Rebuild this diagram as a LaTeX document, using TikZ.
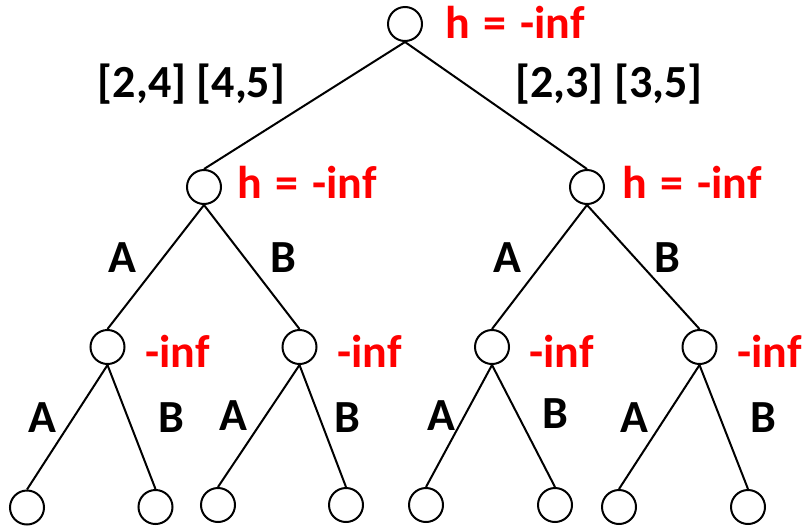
\documentclass[tikz,border=0pt]{standalone}
\usepackage{fontspec}
\setmainfont{Carlito}
\newcommand{\hinf}{h\hspace{3.5pt} = \hspace{3.5pt}-inf}
\begin{document}
\begin{tikzpicture}[x=1pt,y=-1pt,
  st/.style={circle,draw=black,line width=2pt,minimum size=34pt,inner sep=0pt},
  edge/.style={line width=2pt},
  hlabel/.style={anchor=base west,inner sep=0pt,text=red,font=\fontsize{46}{46}\selectfont\bfseries},
  elabel/.style={anchor=base,inner sep=0pt,text=black,font=\fontsize{46}{46}\selectfont\bfseries}]
\useasboundingbox (0,0) rectangle (805,528);
% nodes
\node[st] (r) at (405,24) {};
\node[st] (a) at (204,187) {};
\node[st] (b) at (587,187) {};
\node[st] (aa) at (107.5,347) {};
\node[st] (ab) at (299.5,347) {};
\node[st] (ba) at (492,347) {};
\node[st] (bb) at (699.5,347) {};
\node[st] (aaa) at (27,507.5) {};
\node[st] (aab) at (155.5,507) {};
\node[st] (aba) at (218,505) {};
\node[st] (abb) at (346,505) {};
\node[st] (baa) at (426,505) {};
\node[st] (bab) at (555,505) {};
\node[st] (bba) at (619,507) {};
\node[st] (bbb) at (748,507) {};
% edges
\draw[edge] (r.south) -- (a.north);
\draw[edge] (r.south) -- (b.north);
\draw[edge] (a.south) -- (aa.north);
\draw[edge] (a.south) -- (ab.north);
\draw[edge] (b.south) -- (ba.north);
\draw[edge] (b.south) -- (bb.north);
\draw[edge] (aa.south) -- (aaa.north);
\draw[edge] (aa.south) -- (aab.north);
\draw[edge] (ab.south) -- (aba.north);
\draw[edge] (ab.south) -- (abb.north);
\draw[edge] (ba.south) -- (baa.north);
\draw[edge] (ba.south) -- (bab.north);
\draw[edge] (bb.south) -- (bba.north);
\draw[edge] (bb.south) -- (bbb.north);
% value labels
\node[hlabel] (hr) at (445,38) {\hinf};
\node[hlabel] (ha) at (237,198) {\hinf};
\node[hlabel] (hb) at (622,198) {\hinf};
\node[hlabel] (haa) at (145,367) {-inf};
\node[hlabel] (hab) at (337,367) {-inf};
\node[hlabel] (hba) at (529,367) {-inf};
\node[hlabel] (hbb) at (737,367) {-inf};
% edge labels
\node[elabel] (la) at (191.5,97) {[2,4] [4,5]};
\node[elabel] (lb) at (609,97) {[2,3] [3,5]};
\node[elabel] (l1) at (122,272) {A};
\node[elabel] (l2) at (283.5,272) {B};
\node[elabel] (l3) at (507,272) {A};
\node[elabel] (l4) at (667,272) {B};
\node[elabel] (m1) at (42,432) {A};
\node[elabel] (m2) at (171,432) {B};
\node[elabel] (m3) at (233,430) {A};
\node[elabel] (m4) at (347,432) {B};
\node[elabel] (m5) at (441,430) {A};
\node[elabel] (m6) at (555,428) {B};
\node[elabel] (m7) at (634,432) {A};
\node[elabel] (m8) at (763,432) {B};
\end{tikzpicture}
\end{document}
